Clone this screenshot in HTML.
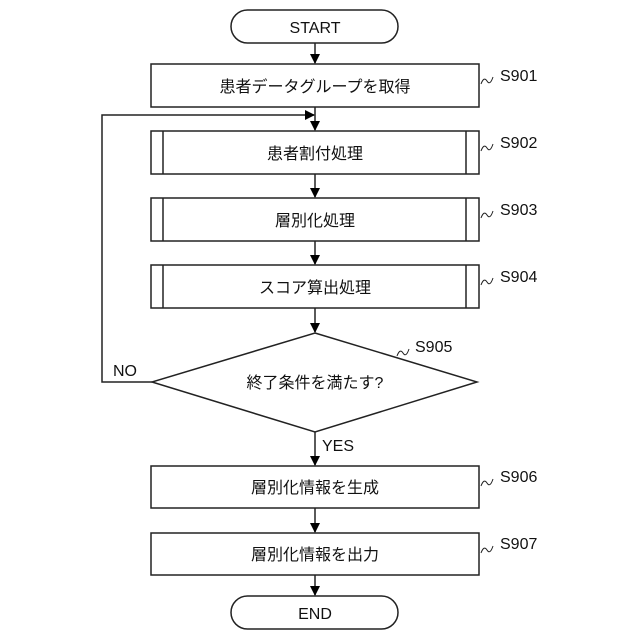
<!DOCTYPE html>
<html><head><meta charset="utf-8"><style>body{margin:0;background:#fff}</style></head><body>
<svg width="640" height="640" xmlns="http://www.w3.org/2000/svg" style="display:block">
<defs><marker id="a" markerWidth="10" markerHeight="10" refX="9" refY="5" orient="auto" markerUnits="userSpaceOnUse"><path d="M0,0 L10,5 L0,10z" fill="#000"/></marker></defs>
<g fill="none" stroke="#222" stroke-width="1.5">
<rect x="231" y="10" width="167" height="33" rx="16.5"/>
<rect x="151" y="64" width="328" height="43"/>
<rect x="151" y="131" width="328" height="43"/><line x1="163" y1="131" x2="163" y2="174"/><line x1="466" y1="131" x2="466" y2="174"/>
<rect x="151" y="198" width="328" height="43"/><line x1="163" y1="198" x2="163" y2="241"/><line x1="466" y1="198" x2="466" y2="241"/>
<rect x="151" y="265" width="328" height="43"/><line x1="163" y1="265" x2="163" y2="308"/><line x1="466" y1="265" x2="466" y2="308"/>
<polygon points="315,333 477,382 315,432 152,382"/>
<rect x="151" y="466" width="328" height="42"/>
<rect x="151" y="533" width="328" height="42"/>
<rect x="231" y="596" width="167" height="33" rx="16.5"/>
<line x1="315" y1="43" x2="315" y2="63" marker-end="url(#a)"/>
<line x1="315" y1="107" x2="315" y2="130" marker-end="url(#a)"/>
<line x1="315" y1="174" x2="315" y2="197" marker-end="url(#a)"/>
<line x1="315" y1="241" x2="315" y2="264" marker-end="url(#a)"/>
<line x1="315" y1="308" x2="315" y2="332" marker-end="url(#a)"/>
<line x1="315" y1="432" x2="315" y2="465" marker-end="url(#a)"/>
<line x1="315" y1="508" x2="315" y2="532" marker-end="url(#a)"/>
<line x1="315" y1="575" x2="315" y2="595" marker-end="url(#a)"/>
<polyline points="152,382 102,382 102,115 314,115" marker-end="url(#a)"/>
<path d="M481,84 q3,-8 6,-3 q3,5 6,-4" stroke-width="1"/>
<path d="M481,151 q3,-8 6,-3 q3,5 6,-4" stroke-width="1"/>
<path d="M481,218 q3,-8 6,-3 q3,5 6,-4" stroke-width="1"/>
<path d="M481,285 q3,-8 6,-3 q3,5 6,-4" stroke-width="1"/>
<path d="M397,356 q3,-8 6,-3 q3,5 6,-4" stroke-width="1"/>
<path d="M481,486 q3,-8 6,-3 q3,5 6,-4" stroke-width="1"/>
<path d="M481,553 q3,-8 6,-3 q3,5 6,-4" stroke-width="1"/>
</g>
<g font-family="Liberation Sans, Noto Sans CJK JP, sans-serif" font-size="16" fill="#111">
<g text-anchor="middle">
<text x="315" y="33">START</text>
<text x="315" y="92">患者データグループを取得</text>
<text x="315" y="159">患者割付処理</text>
<text x="315" y="226">層別化処理</text>
<text x="315" y="293">スコア算出処理</text>
<text x="315" y="388">終了条件を満たす?</text>
<text x="315" y="493">層別化情報を生成</text>
<text x="315" y="560">層別化情報を出力</text>
<text x="315" y="619">END</text>
</g>
<text x="500" y="81">S901</text>
<text x="500" y="148">S902</text>
<text x="500" y="215">S903</text>
<text x="500" y="282">S904</text>
<text x="415" y="352">S905</text>
<text x="500" y="482">S906</text>
<text x="500" y="549">S907</text>
<text x="113" y="376">NO</text>
<text x="322" y="451">YES</text>
</g>
</svg>
</body></html>
